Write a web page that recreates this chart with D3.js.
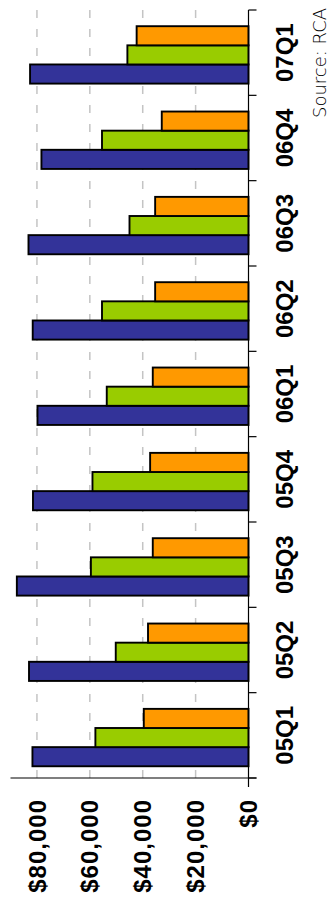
<!DOCTYPE html>
<html>
<head>
<meta charset="utf-8">
<script src="https://cdn.jsdelivr.net/npm/d3@7"></script>
<style>
  html, body { margin: 0; padding: 0; background: #fff; }
  svg { display: block; }
</style>
</head>
<body>
<svg id="chart" width="329" height="901"></svg>
<script>
// Quarterly values per series (USD)
const categories = ["05Q1", "05Q2", "05Q3", "05Q4", "06Q1", "06Q2", "06Q3", "06Q4", "07Q1"];
const seriesNames = ["A", "B", "C"];
const seriesA = [81700, 83000, 87600, 81500, 79800, 81600, 83200, 78300, 82600];
const seriesB = [57900, 50200, 59600, 59000, 53600, 55400, 45000, 55400, 45800];
const seriesC = [39600, 38000, 36200, 37200, 36200, 35300, 35300, 32800, 42300];
const valueTicks = [0, 20000, 40000, 60000, 80000];
const valueMax = 90000;
const sourceNote = "Source: RCA";

const colors = { A: "#333399", B: "#99cc00", C: "#ff9900" };
const seriesValues = { A: seriesA, B: seriesB, C: seriesC };

const rows = categories.map((c, i) => ({
  cat: c,
  vals: seriesNames.map(s => ({ key: s, value: seriesValues[s][i] }))
}));

const svg = d3.select("#chart");
// The chart is laid out as an ordinary column chart (901 wide, 329 tall)
// and then turned a quarter turn counter-clockwise onto the page.
const W = 901;
const g = svg.append("g").attr("transform", `translate(0,${W}) rotate(-90)`);

const x0 = d3.scaleBand().domain(categories).range([123, 891]).paddingInner(0).paddingOuter(0);
const x1 = d3.scaleBand().domain(seriesNames).range([0, x0.bandwidth()])
  .paddingInner(0).paddingOuter(0.73).align(0.42);
const y = d3.scaleLinear().domain([0, valueMax]).range([248.5, 10.5]);

// dashed gridlines
g.append("g").selectAll("line").data(valueTicks.filter(v => v > 0)).join("line")
  .attr("x1", 891).attr("x2", 123)
  .attr("y1", d => y(d)).attr("y2", d => y(d))
  .attr("stroke", "#c4c4c4").attr("stroke-width", 1.5)
  .attr("stroke-dasharray", "8,11");

// bars
const groups = g.append("g").selectAll("g").data(rows).join("g")
  .attr("transform", d => `translate(${x0(d.cat)},0)`);
groups.selectAll("rect").data(d => d.vals).join("rect")
  .attr("x", d => x1(d.key))
  .attr("width", x1.bandwidth())
  .attr("y", d => y(d.value))
  .attr("height", d => y(0) - y(d.value))
  .attr("fill", d => colors[d.key])
  .attr("stroke", "#000").attr("stroke-width", 1.9);

// value axis line
g.append("line").attr("x1", 123).attr("x2", 123)
  .attr("y1", y(valueMax)).attr("y2", y(0) + 8)
  .attr("stroke", "#000").attr("stroke-width", 1.2);

// category axis line with boundary ticks
g.append("line").attr("x1", 114).attr("x2", 891)
  .attr("y1", y(0)).attr("y2", y(0))
  .attr("stroke", "#000").attr("stroke-width", 1.2);
const bounds = categories.map(c => x0(c)).concat([x0(categories[categories.length - 1]) + x0.bandwidth()]);
g.append("g").selectAll("line").data(bounds).join("line")
  .attr("x1", d => d).attr("x2", d => d)
  .attr("y1", y(0)).attr("y2", y(0) + 8)
  .attr("stroke", "#000").attr("stroke-width", 1.2);

// category labels
g.append("g").selectAll("text").data(categories).join("text")
  .attr("x", d => x0(d) + x0.bandwidth() / 2)
  .attr("y", 293)
  .attr("text-anchor", "middle")
  .attr("font-family", "Liberation Sans, Arial, sans-serif")
  .attr("font-weight", "bold")
  .attr("font-size", 24)
  .text(d => d);

// value labels
const fmt = d => "$" + d3.format(",")(d);
g.append("g").selectAll("text").data(valueTicks).join("text")
  .attr("x", 102)
  .attr("y", d => y(d))
  .attr("dy", "0.36em")
  .attr("text-anchor", "end")
  .attr("font-family", "Liberation Sans, Arial, sans-serif")
  .attr("font-weight", "bold")
  .attr("font-size", 24)
  .attr("letter-spacing", 1)
  .text(fmt);

// source note
g.append("text")
  .attr("x", 783)
  .attr("y", 326)
  .attr("font-family", "DejaVu Sans, sans-serif")
  .attr("font-weight", 200)
  .attr("font-size", 18)
  .attr("fill", "#000")
  .text(sourceNote);
</script>
</body>
</html>
